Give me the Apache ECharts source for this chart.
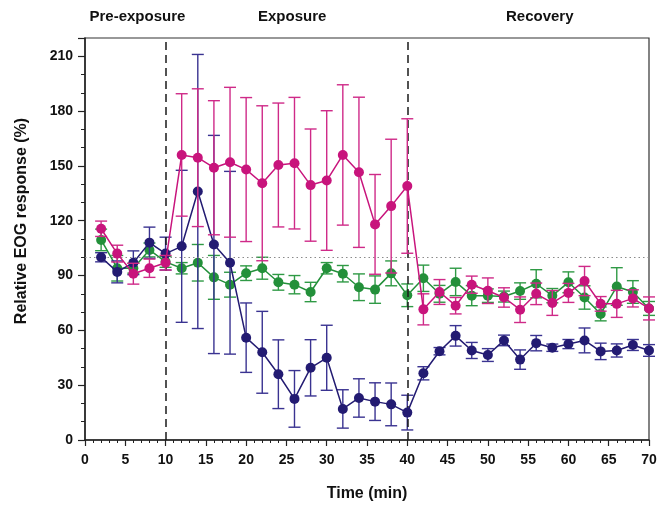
<!DOCTYPE html>
<html>
<head>
<meta charset="utf-8">
<script src="https://cdn.jsdelivr.net/npm/echarts@6/dist/echarts.min.js"></script>
<style>
    html, body {margin: 0; padding: 0; background: #fff;}
    #main {width: 670px; height: 507px;}
</style>
</head>
<body>
<div id="main"></div>
<script>
let times = [2, 4, 6, 8, 10, 12, 14, 16, 18, 20, 22, 24, 26, 28, 30, 32, 34, 36, 38, 40,
    42, 44, 46, 48, 50, 52, 54, 56, 58, 60, 62, 64, 66, 68, 70];

let blueMean = [100, 92, 97, 108, 102, 106, 136, 107, 97, 56, 48, 36, 22.5, 39.5, 45, 17, 23, 21, 19.5, 15,
    36.5, 48.6, 57, 49, 46.5, 54.5, 44, 53, 50.5, 52.5, 54.5, 48.5, 49, 52, 49];
let blueErr = [2.5, 6, 6.5, 8.5, 9, 41.6, 75, 59.7, 50, 19, 22.4, 18.8, 15.5, 15.4, 17.8, 10.5, 10.5, 10.3, 11.7, 9.5,
    3.6, 2, 5.6, 4.4, 3.5, 2.9, 5.3, 4.2, 2, 2.5, 6.8, 4.5, 3.6, 3, 3.2];

let pinkMean = [115.6, 102, 91, 94, 97, 156, 154.5, 149, 152, 148, 140.5, 150.5, 151.5, 139.5, 142, 156, 146.5, 118, 128, 139,
    71.5, 81, 73.5, 85, 81.7, 78, 71.3, 80, 75, 80.5, 87, 74.5, 74.5, 77.5, 72];
let pinkErr = [4.2, 4.6, 5.7, 5, 4, 33.5, 37.7, 36.7, 41, 39.4, 42.4, 33.9, 36, 30.7, 38.2, 38.4, 41.1, 27.3, 36.6, 36.8,
    8.5, 6.8, 4.5, 4.7, 7, 5.3, 7, 5.9, 6.8, 5.2, 8, 4, 7.4, 4.7, 6.3];

let greenMean = [109.5, 94, 94, 104, 97.5, 94, 97, 89, 85, 91.3, 94, 86.3, 85, 81, 94, 91, 83.6, 82.3, 91.2, 79.2,
    88.5, 80, 86.5, 79, 79, 78.5, 81.5, 85.5, 79, 86.3, 78, 69, 84, 81, 72];
let greenErr = [5.9, 7, 2.7, 3.8, 3, 3.1, 10, 12, 6.8, 4, 6, 4.3, 5, 5.3, 3.1, 4.5, 7.3, 7.5, 6.8, 6.2,
    7.2, 4.6, 7.5, 5.5, 3.7, 3, 4.5, 7.7, 3.9, 5.7, 6.4, 3.8, 10.3, 6.2, 3.8];

let phaseLines = [10, 40];
let baseline = 100;

let fontFamily = '"Liberation Sans", Arial, sans-serif';

let chart = echarts.init(document.getElementById('main'), null, {renderer: 'canvas'});

let toPoints = (mean) => times.map((t, i) => [t, mean[i]]);
let toBars = (mean, err) => times.map((t, i) => [t, mean[i] - err[i], mean[i] + err[i]]);

let errorBars = (color) => (params, api) => {
    let x = api.value(0);
    let lo = api.coord([x, api.value(1)]);
    let hi = api.coord([x, api.value(2)]);
    let w = 6;
    let style = {stroke: color, lineWidth: 1.4};
    return {
        type: 'group',
        children: [
            {type: 'line', shape: {x1: hi[0], y1: hi[1], x2: lo[0], y2: lo[1]}, style},
            {type: 'line', shape: {x1: hi[0] - w, y1: hi[1], x2: hi[0] + w, y2: hi[1]}, style},
            {type: 'line', shape: {x1: lo[0] - w, y1: lo[1], x2: lo[0] + w, y2: lo[1]}, style},
        ]
    };
};

let groups = [
    {name: 'green', color: '#23903a', bar: '#2f9a45', mean: greenMean, err: greenErr},
    {name: 'navy', color: '#231b72', bar: '#3a3391', mean: blueMean, err: blueErr},
    {name: 'pink', color: '#c8147c', bar: '#cf2a88', mean: pinkMean, err: pinkErr},
];

let series = [];
groups.forEach((g, k) => {
    series.push({
        type: 'custom',
        name: g.name + ' sem',
        renderItem: errorBars(g.bar),
        data: toBars(g.mean, g.err),
        encode: {x: 0, y: [1, 2]},
        z: 2 + k * 2,
        silent: true,
    });
    series.push({
        type: 'line',
        name: g.name,
        data: toPoints(g.mean),
        symbol: 'circle',
        symbolSize: 10,
        color: g.color,
        lineStyle: {width: 1.5, color: g.color},
        itemStyle: {color: g.color},
        z: 3 + k * 2,
    });
});

series[0].markLine = {
    silent: true,
    symbol: ['none', 'none'],
    label: {show: false},
    animation: false,
    data: [
        ...phaseLines.map(v => ({xAxis: v, lineStyle: {color: '#1a1a1a', type: [8, 5], width: 1.5}})),
        {yAxis: baseline, lineStyle: {color: '#8a8a8a', type: [1.5, 3], width: 1}},
    ],
};

let axisText = {
    color: '#111',
    fontFamily: fontFamily,
    fontWeight: 'bold',
    fontSize: 14,
};

let option = {
    animation: false,
    grid: {
        left: 85,
        right: 21,
        top: 38,
        bottom: 63,
        show: true,
        borderColor: '#333',
        borderWidth: 1.2,
    },
    xAxis: [{
        type: 'value',
        min: 0,
        max: 70,
        interval: 5,
        name: 'Time (min)',
        nameLocation: 'middle',
        nameGap: 46,
        nameTextStyle: {...axisText, fontSize: 16},
        axisLine: {lineStyle: {color: '#222', width: 1.5}},
        axisTick: {length: 6, lineStyle: {color: '#222', width: 1.2}},
        minorTick: {show: true, splitNumber: 5, length: 3, lineStyle: {color: '#222', width: 1}},
        splitLine: {show: false},
        minorSplitLine: {show: false},
        axisLabel: {...axisText, margin: 13},
    }],
    yAxis: [{
        type: 'value',
        min: 0,
        max: 220,
        interval: 30,
        axisLine: {show: true, lineStyle: {color: '#222', width: 1.5}},
        axisTick: {show: true, length: 7, lineStyle: {color: '#222', width: 1.2}},
        splitLine: {show: false},
        axisLabel: {
            ...axisText,
            margin: 12,
            formatter: (v) => v % 30 === 0 ? v : '',
        },
    }, {
        type: 'value',
        position: 'left',
        min: 0,
        max: 220,
        interval: 10,
        axisLine: {show: false},
        axisTick: {show: true, length: 4, lineStyle: {color: '#222', width: 1}},
        splitLine: {show: false},
        axisLabel: {show: false},
    }],
    graphic: [
        {type: 'text', left: 137.5 - 48, top: 9, style: {text: 'Pre-exposure', fill: '#111', font: 'bold 15px ' + fontFamily}},
        {type: 'text', left: 293 - 35, top: 9, style: {text: 'Exposure', fill: '#111', font: 'bold 15px ' + fontFamily}},
        {type: 'text', left: 540 - 34, top: 9, style: {text: 'Recovery', fill: '#111', font: 'bold 15px ' + fontFamily}},
        {
            type: 'text',
            x: 22,
            y: 221,
            rotation: Math.PI / 2,
            style: {
                text: 'Relative EOG response (%)',
                fill: '#111',
                font: 'bold 16px ' + fontFamily,
                align: 'center',
                verticalAlign: 'middle',
            }
        },
    ],
    series: series,
};

chart.setOption(option);
window.addEventListener('resize', chart.resize);
</script>
</body>
</html>
